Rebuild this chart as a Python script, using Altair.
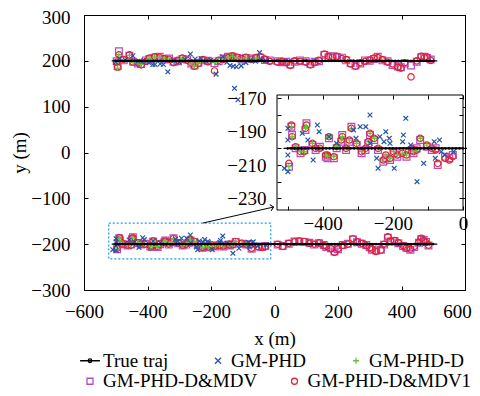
import json
import altair as alt
import pandas as pd

FONT = "Liberation Serif"

# ---------------- series styling ----------------
SERIES = ["True traj", "GM-PHD", "GM-PHD-D", "GM-PHD-D&MDV", "GM-PHD-D&MDV1"]
SERIES_COLORS = ["#000000", "#2456a8", "#63c53c", "#b44cc0", "#e6202e"]
TRUE_SHAPE = "M-3.3,0H3.3M-0.6,0A0.6,0.6,0,1,1,0.6,0A0.6,0.6,0,1,1,-0.6,0"
X_SHAPE = "M-1,-1L1,1M-1,1L1,-1"
PLUS_SHAPE = "M-1,0L1,0M0,-1L0,1"
SERIES_SHAPES = [TRUE_SHAPE, X_SHAPE, PLUS_SHAPE, "square", "circle"]
SERIES_SIZES = [6, 22, 30, 46, 40]

# ---------------- true trajectories ----------------
TRUE_X = [-500, -490, -480, -470, -460, -450, -440, -430, -420, -410, -400, -390, -380, -370,
          -360, -350, -340, -330, -320, -310, -300, -290, -280, -270, -260, -250, -240, -230,
          -220, -210, -200, -190, -180, -170, -160, -150, -140, -130, -120, -110, -100, -90,
          -80, -70, -60, -50, -40, -30, -20, -10, 0, 10, 20, 30, 40, 50, 60, 70, 80, 90, 100,
          110, 120, 130, 140, 150, 160, 170, 180, 190, 200, 210, 220, 230, 240, 250, 260, 270,
          280, 290, 300, 310, 320, 330, 340, 350, 360, 370, 380, 390, 400, 410, 420, 430, 440,
          450, 460, 470, 480, 490, 500]
TRACKS = ["top", "bottom"]
TRACK_Y = [200, -200]

# ---------------- top track estimates (y ~ 200) ----------------
TOP_X = [-497, -494, -490, -475, -457, -445, -430, -420, -405, -394, -378, -362, -347, -332,
         -318, -305, -290, -275, -262, -252, -240, -226, -210, -189, -176, -160, -146, -132,
         -118, -104, -90, -74, -58, -44, -30, -15, 10, 24, 37, 50, 64, 80, 98, 113, 126, 140,
         157, 170, 183, 197, 212, 226, 240, 255, 270, 285, 300, 313, 325, 340, 356, 372, 388,
         398, 410, 430, 448, 462, 472, 480, 492]
TOP_Y_MDV1 = [197, 186, 213, 203, 213, 197, 196, 191, 199, 206, 209, 207, 205, 203, 196, 201,
              206, 201, 196, 188, 194, 203, 198, 178, 201, 203, 207, 211, 208, 205, 208, 203,
              207, 209, 204, 199, 197, 199, 196, 190, 200, 199, 197, 191, 196, 201, 215, 210,
              208, 210, 205, 203, 193, 188, 196, 199, 202, 206, 207, 203, 197, 193, 186, 184,
              196, 165, 200, 210, 207, 208, 201]
TOP_Y_MDV = [199, 188, 221, 201, 211, 198, 194, 193, 201, 204, 207, 209, 203, 205, 198, 199,
             204, 203, 194, 190, 196, 201, 200, 195, 199, 205, 209, 209, 206, 203, 206, 205,
             205, 207, 202, 201, 199, 197, 198, 192, 198, 201, 199, 193, 198, 199, 213, 208,
             210, 208, 207, 201, 195, 190, 194, 201, 200, 204, 209, 201, 199, 191, 188, 186,
             194, 190, 198, 208, 209, 206, 203]
TOP_Y_D = [198, 184, 213, 202, 212, 196, 195, 192, 200, 205, 208, 208, 204, 204, 197, 200,
           205, 202, 195, 189, 195, 202, 199, 196, 200, 204, 208, 210, 207, 204, 207, 204, 206]
TOP_X_PHD = [-500, -488, -470, -446, -430, -412, -395, -383, -376, -360, -350, -336, -318, -300,
             -282, -265, -250, -231, -215, -200, -184, -163, -150, -140, -130, -126, -120, -115,
             -105, -90, -75, -60, -47, -42, -28]
TOP_Y_PHD = [197, 205, 202, 211, 199, 200, 196, 192, 192, 193, 192, 176, 200, 197, 203, 215,
             204, 205, 199, 202, 171, 209, 197, 190, 188, 140, 187, 115, 189, 196, 202, 199,
             218, 204, 200]

# ---------------- bottom track estimates (y ~ -200) ----------------
BOT_X = [-496, -489, -487, -477, -463, -452, -449, -446, -429, -420, -408, -391, -386, -382,
         -368, -360, -347, -344, -333, -324, -318, -303, -289, -278, -270, -265, -253, -242,
         -227, -220, -208, -198, -187, -173, -161, -146, -141, -132, -122, -103, -89, -78, -72,
         -51, -39, -29, 10, 26, 45, 63, 78, 94, 110, 125, 140, 155, 163, 178, 189, 200, 215,
         231, 247, 260, 275, 289, 300, 307, 320, 335, 345, 357, 365, 378, 390, 405, 415, 428,
         440, 455, 462, 470, 477, 485]
BOT_Y_MDV1 = [-209, -186, -193, -199, -202, -202, -188, -186, -197, -200, -200, -204, -204,
              -193, -205, -199, -195, -193, -200, -195, -188, -197, -202, -200, -196, -191,
              -194, -200, -207, -204, -206, -202, -204, -203, -204, -200, -202, -201, -194,
              -198, -200, -201, -209, -206, -207, -205, -200, -205, -198, -195, -193, -194,
              -198, -200, -197, -203, -205, -210, -218, -210, -203, -200, -188, -195, -198,
              -203, -208, -211, -216, -213, -200, -184, -193, -192, -197, -203, -209, -211,
              -205, -196, -187, -192, -196, -202]
BOT_Y_MDV = [-211, -187, -192, -200, -203, -201, -189, -185, -198, -201, -199, -205, -206,
             -194, -206, -200, -196, -192, -201, -196, -187, -198, -203, -201, -197, -192,
             -195, -201, -208, -206, -207, -203, -205, -202, -205, -201, -203, -200, -195,
             -199, -201, -200, -210, -205, -206, -204, -201, -204, -199, -194, -194, -195,
             -197, -201, -198, -202, -206, -209, -216, -211, -202, -199, -190, -196, -199,
             -202, -207, -212, -214, -212, -201, -186, -194, -193, -198, -204, -208, -212,
             -206, -197, -189, -191, -195, -203]
BOT_Y_D = [-211, -187, -193, -199, -202, -202, -188, -187, -197, -200, -200, -204, -205, -193,
           -205, -199, -195, -193, -200, -195, -188, -197, -202, -200, -196, -191, -194, -200,
           -207, -204, -206, -202, -204, -203, -204, -200, -202, -201, -194, -198, -200]
BOT_X_PHD = [-509, -499, -499, -499, -499, -458, -442, -427, -415, -410, -382, -360, -312, -305,
             -293, -277, -265, -264, -246, -242, -237, -225, -220, -210, -208, -196, -172, -170,
             -163, -149, -131, -112, -82, -79, -67, -62, -52, -27]
BOT_Y_PHD = [-212, -188, -195, -204, -214, -191, -195, -207, -186, -190, -193, -197, -189, -194,
             -187, -187, -180, -197, -206, -212, -193, -196, -190, -194, -197, -212, -196, -192,
             -182, -198, -220, -209, -196, -206, -195, -202, -204, -202]

# ---------------- axes / inset / annotation values ----------------
MAIN_X_DOMAIN = [-600, 600]
MAIN_Y_DOMAIN = [-300, 300]
MAIN_X_TICKS = [-600, -400, -200, 0, 200, 400, 600]
MAIN_X_LABELS = [-600, -400, -200, 0, 200, 400]
MAIN_X_LAST_LABEL = [600]
MAIN_Y_TICKS = [-300, -200, -100, 0, 100, 200, 300]
MAIN_Y_LABELS = [-300, -200, -100, 0, 100, 200]
MAIN_Y_LAST_LABEL = [300]
INSET_X_DOMAIN = [-530, 0]
INSET_Y_DOMAIN = [-237, -168]
INSET_X_TICKS = [-500, -400, -300, -200, -100, 0]
INSET_X_LABELS = [-400, -200, 0]
INSET_Y_TICKS = [-230, -220, -210, -200, -190, -180, -170]
INSET_Y_LABELS = [-230, -210, -190, -170]
ZOOM_BOX_X = [-522, -12]
ZOOM_BOX_Y = [-232, -154]
ARROW_X = [-226, -3]
ARROW_Y = [-154, -119]

W, H = 381, 275
INSET_RANGE_X = [193, 379]
INSET_RANGE_Y = [195, 80]

# ---------------- build table ----------------
rows = []


def add(series, xs, ys, track):
    for x, y in zip(xs, ys):
        rows.append({"series": series, "x": x, "y": y, "track": track})


add("GM-PHD-D&MDV", TOP_X, TOP_Y_MDV, "top")
add("GM-PHD-D&MDV", BOT_X, BOT_Y_MDV, "bottom")
add("GM-PHD-D&MDV1", TOP_X, TOP_Y_MDV1, "top")
add("GM-PHD-D&MDV1", BOT_X, BOT_Y_MDV1, "bottom")
add("GM-PHD-D", TOP_X[:len(TOP_Y_D)], TOP_Y_D, "top")
add("GM-PHD-D", BOT_X[:len(BOT_Y_D)], BOT_Y_D, "bottom")
add("GM-PHD", TOP_X_PHD, TOP_Y_PHD, "top")
add("GM-PHD", BOT_X_PHD, BOT_Y_PHD, "bottom")
for trk, ty in zip(TRACKS, TRACK_Y):
    add("True traj", TRUE_X, [ty] * len(TRUE_X), trk)
df = pd.DataFrame(rows)

SIZE_EXPR = f"{json.dumps(SERIES_SIZES)}[indexof({json.dumps(SERIES)}, datum.series)]"
INSET_FILTER = (f"datum.x >= {INSET_X_DOMAIN[0]} && datum.x <= {INSET_X_DOMAIN[1]} && "
                f"datum.y >= {INSET_Y_DOMAIN[0]} && datum.y <= {INSET_Y_DOMAIN[1]}")


def tick_axis(orient, offset, values, z=0):
    return alt.Axis(orient=orient, offset=offset, values=values, labels=False, domain=False,
                    grid=False, ticks=True, tickSize=4, tickColor="black", tickWidth=1,
                    title=None, zindex=z)


def label_axis(orient, offset, values, pad, title=None, z=0, tpad=4, loff=0):
    return alt.Axis(orient=orient, offset=offset, values=values, labels=True, ticks=False,
                    domain=False, grid=False, labelPadding=pad, labelFont=FONT,
                    labelFontSize=19, labelColor="black", labelFlush=False,
                    labelOverlap=False, labelOffset=loff, title=title, titleFont=FONT,
                    titleFontSize=19, titleFontWeight=400, titleColor="black",
                    titlePadding=tpad, zindex=z)


def legend(values, lx, ly, colpad):
    return alt.Legend(values=values, title=None, orient="none", legendX=lx, legendY=ly,
                      direction="horizontal", columnPadding=colpad, padding=0, offset=0,
                      labelFont=FONT, labelFontSize=19, labelColor="black", labelOffset=3.5,
                      labelLimit=400, symbolSize=36, symbolStrokeWidth=1.3, symbolOffset=0)


LEG_ROW1 = legend(SERIES[:3], -3.5, 336, 40)
LEG_ROW2 = legend(SERIES[3:], -3.5, 356.5, 27.5)

XS = alt.Scale(domain=MAIN_X_DOMAIN, nice=False, zero=False)
YS = alt.Scale(domain=MAIN_Y_DOMAIN, nice=False, zero=False)
IXS = alt.Scale(domain=INSET_X_DOMAIN, range=INSET_RANGE_X, nice=False, zero=False)
IYS = alt.Scale(domain=INSET_Y_DOMAIN, range=INSET_RANGE_Y, nice=False, zero=False)
CS = alt.Scale(domain=SERIES, range=SERIES_COLORS)
SS = alt.Scale(domain=SERIES, range=SERIES_SHAPES)
size_enc = alt.Size("sz:Q", scale=None, legend=None)

base = alt.Chart(df)

# ---------------- main panel ----------------
main_scatter = base.transform_calculate(sz=SIZE_EXPR).mark_point(
    filled=False, strokeWidth=1.2, opacity=1).encode(
    x=alt.X("x:Q", scale=XS, axis=tick_axis("top", -H, MAIN_X_TICKS)),
    y=alt.Y("y:Q", scale=YS, axis=tick_axis("right", -W, MAIN_Y_TICKS)),
    color=alt.Color("series:N", scale=CS, legend=LEG_ROW1),
    shape=alt.Shape("series:N", scale=SS, legend=LEG_ROW1),
    size=size_enc)

main_line = base.transform_filter(alt.datum.series == "True traj").mark_line(
    color="black", strokeWidth=1.8).encode(
    x=alt.X("x:Q", scale=XS, axis=label_axis("bottom", 0, MAIN_X_LABELS, 12, "x (m)", tpad=8)),
    y=alt.Y("y:Q", scale=YS, axis=label_axis("left", 0, MAIN_Y_LABELS, 14, "y (m)", tpad=1)),
    detail="track:N")

box_df = pd.DataFrame({"x": [ZOOM_BOX_X[0]], "x2": [ZOOM_BOX_X[1]],
                       "y": [ZOOM_BOX_Y[0]], "y2": [ZOOM_BOX_Y[1]]})
zoom_box = alt.Chart(box_df).mark_rect(fillOpacity=0, stroke="#1a9fe3", strokeWidth=1.2,
                                      strokeDash=[2, 2]).encode(
    x=alt.X("x:Q", scale=XS, axis=tick_axis("bottom", -H, MAIN_X_TICKS)),
    x2="x2:Q",
    y=alt.Y("y:Q", scale=YS, axis=tick_axis("left", -W, MAIN_Y_TICKS)),
    y2="y2:Q")

arrow_df = pd.DataFrame({"x": ARROW_X, "y": ARROW_Y})
arrow_line = alt.Chart(arrow_df).mark_line(color="black", strokeWidth=1).encode(
    x=alt.X("x:Q", scale=XS, axis=None),
    y=alt.Y("y:Q", scale=YS, axis=label_axis("left", 0, MAIN_Y_LAST_LABEL, 14, loff=2.5)))
arrow_head = alt.Chart(arrow_df.tail(1)).mark_point(
    shape="M-1,-1L0,0L-1,1", size=40, filled=False, color="black", strokeWidth=1,
    angle=348, opacity=1).encode(
    x=alt.X("x:Q", scale=XS, axis=label_axis("bottom", 0, MAIN_X_LAST_LABEL, 12, loff=-8)),
    y=alt.Y("y:Q", scale=YS, axis=None))

main = alt.layer(main_scatter, zoom_box, arrow_line, arrow_head, main_line).resolve_axis(
    x="independent", y="independent")

# ---------------- inset panel ----------------
frame_df = pd.DataFrame({"x": [INSET_X_DOMAIN[0]], "x2": [INSET_X_DOMAIN[1]],
                         "y": [INSET_Y_DOMAIN[0]], "y2": [INSET_Y_DOMAIN[1]]})
inset_frame = alt.Chart(frame_df).mark_rect(fill="white", stroke="black", strokeWidth=1).encode(
    x=alt.X("x:Q", scale=IXS, axis=label_axis("bottom", -(H - INSET_RANGE_Y[0]),
                                              INSET_X_LABELS, 4, z=1)),
    x2="x2:Q",
    y=alt.Y("y:Q", scale=IYS, axis=label_axis("left", -INSET_RANGE_X[0],
                                              INSET_Y_LABELS, 11, z=1)),
    y2="y2:Q")

inset_scatter = base.transform_filter(INSET_FILTER).transform_calculate(sz=SIZE_EXPR).mark_point(
    filled=False, strokeWidth=1.2, opacity=1).encode(
    x=alt.X("x:Q", scale=IXS, axis=tick_axis("bottom", -(H - INSET_RANGE_Y[1]), INSET_X_TICKS, 1)),
    y=alt.Y("y:Q", scale=IYS, axis=tick_axis("left", -INSET_RANGE_X[1], INSET_Y_TICKS, 1)),
    color=alt.Color("series:N", scale=CS, legend=LEG_ROW2),
    shape=alt.Shape("series:N", scale=SS, legend=LEG_ROW2),
    size=size_enc)

inset_line = base.transform_filter(
    (alt.datum.series == "True traj") & (alt.datum.track == "bottom") &
    (alt.datum.x <= INSET_X_DOMAIN[1])).mark_line(color="black", strokeWidth=1.8).encode(
    x=alt.X("x:Q", scale=IXS, axis=tick_axis("top", -INSET_RANGE_Y[0], INSET_X_TICKS, 1)),
    y=alt.Y("y:Q", scale=IYS, axis=tick_axis("right", -(W - INSET_RANGE_X[0]), INSET_Y_TICKS, 1)))

inset = alt.layer(inset_frame, inset_scatter, inset_line).resolve_axis(
    x="independent", y="independent")

chart = alt.layer(main, inset).resolve_scale(
    x="independent", y="independent", color="independent", shape="independent").properties(
    width=W, height=H,
    autosize=alt.AutoSizeParams(type="none"),
    padding={"left": 76, "top": 7, "right": 7, "bottom": 100},
    background="white").configure_view(stroke="black", strokeWidth=1)

chart.save("out.html", embed_options={"renderer": "svg", "actions": False})
